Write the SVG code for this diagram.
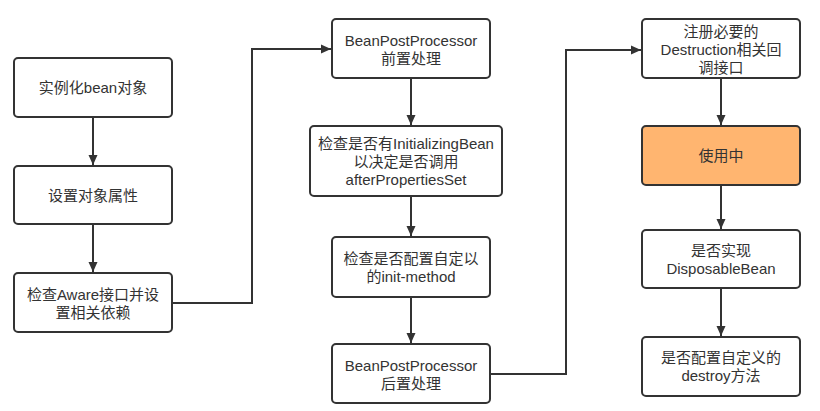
<svg xmlns="http://www.w3.org/2000/svg" width="820" height="411" viewBox="0 0 820 411">
<style>
.box{fill:#ffffff;stroke:#333333;stroke-width:2}
.hot{fill:#ffb570}
.t{font-family:"Liberation Sans","Noto Sans CJK SC",sans-serif;font-size:15px;fill:#333333;text-anchor:middle;dominant-baseline:central}
.c{fill:none;stroke:#333333;stroke-width:2}
</style>
<defs>
<marker id="ah" markerUnits="userSpaceOnUse" markerWidth="10" markerHeight="10" viewBox="0 0 10 10" refX="10" refY="5" orient="auto">
<path d="M0,0.5 L10,5 L0,9.5 z" fill="#333333"/>
</marker>
</defs>
<rect width="820" height="411" fill="#ffffff"/>
<g id="connectors">
<path class="c" d="M93,117 V165" marker-end="url(#ah)"/>
<path class="c" d="M93,224 V272" marker-end="url(#ah)"/>
<path class="c" d="M172,303 H252 V49 H331" marker-end="url(#ah)"/>
<path class="c" d="M411,78 V125" marker-end="url(#ah)"/>
<path class="c" d="M411,196 V236" marker-end="url(#ah)"/>
<path class="c" d="M411,297 V343" marker-end="url(#ah)"/>
<path class="c" d="M490,374 H566 V50 H641" marker-end="url(#ah)"/>
<path class="c" d="M721,78 V125" marker-end="url(#ah)"/>
<path class="c" d="M721,185 V229" marker-end="url(#ah)"/>
<path class="c" d="M721,288 V336" marker-end="url(#ah)"/>
</g>
<g id="n1"><rect class="box" x="14" y="58" width="158" height="59" rx="4"/><text class="t" x="93" y="87.5">实例化bean对象</text></g>
<g id="n2"><rect class="box" x="14" y="166" width="158" height="58" rx="4"/><text class="t" x="93" y="195">设置对象属性</text></g>
<g id="n3"><rect class="box" x="14" y="273" width="158" height="59" rx="4"/><text class="t" x="93" y="294">检查Aware接口并设</text><text class="t" x="93" y="312">置相关依赖</text></g>
<g id="n4"><rect class="box" x="332" y="19" width="158" height="59" rx="4"/><text class="t" x="411" y="40">BeanPostProcessor</text><text class="t" x="411" y="58">前置处理</text></g>
<g id="n5"><rect class="box" x="310" y="126" width="192" height="70" rx="4"/><text class="t" x="406" y="143">检查是否有InitializingBean</text><text class="t" x="406" y="161">以决定是否调用</text><text class="t" x="406" y="179">afterPropertiesSet</text></g>
<g id="n6"><rect class="box" x="332" y="237" width="158" height="60" rx="4"/><text class="t" x="411" y="258">检查是否配置自定以</text><text class="t" x="411" y="276">的init-method</text></g>
<g id="n7"><rect class="box" x="332" y="344" width="158" height="59" rx="4"/><text class="t" x="411" y="365">BeanPostProcessor</text><text class="t" x="411" y="383">后置处理</text></g>
<g id="n8"><rect class="box" x="642" y="19" width="158" height="59" rx="4"/><text class="t" x="721" y="31">注册必要的</text><text class="t" x="721" y="49">Destruction相关回</text><text class="t" x="721" y="67">调接口</text></g>
<g id="n9"><rect class="box hot" x="642" y="126" width="158" height="59" rx="4"/><text class="t" x="721" y="155.5">使用中</text></g>
<g id="n10"><rect class="box" x="642" y="230" width="158" height="58" rx="4"/><text class="t" x="721" y="250">是否实现</text><text class="t" x="721" y="268">DisposableBean</text></g>
<g id="n11"><rect class="box" x="642" y="337" width="158" height="59" rx="4"/><text class="t" x="721" y="357.5">是否配置自定义的</text><text class="t" x="721" y="375.5">destroy方法</text></g>
</svg>
